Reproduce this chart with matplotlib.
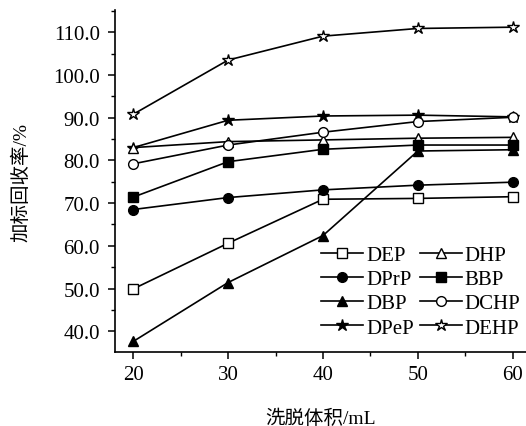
"""Spike recovery of phthalates vs. elution volume."""

import matplotlib
matplotlib.use("Agg")
import matplotlib.pyplot as plt
from matplotlib.ticker import MultipleLocator, FormatStrFormatter

plt.rcParams["font.family"] = ["Liberation Serif", "Noto Sans CJK SC"]

volume = [20, 30, 40, 50, 60]

dep = [49.9, 60.6, 70.9, 71.1, 71.5]
dprp = [68.5, 71.3, 73.1, 74.2, 74.9]
dbp = [37.6, 51.4, 62.4, 82.2, 82.5]
dpep = [83.0, 89.4, 90.4, 90.6, 90.2]
dhp = [83.0, 84.4, 84.8, 85.2, 85.4]
bbp = [71.4, 79.7, 82.6, 83.6, 83.6]
dchp = [79.2, 83.6, 86.6, 89.1, 90.1]
dehp = [90.8, 103.5, 109.1, 110.9, 111.2]

# legend order (column-wise): DEP, DPrP, DBP, DPeP | DHP, BBP, DCHP, DEHP
series = [
    ("DEP", dep, "s", "white"),
    ("DPrP", dprp, "o", "black"),
    ("DBP", dbp, "^", "black"),
    ("DPeP", dpep, "*", "black"),
    ("DHP", dhp, "^", "white"),
    ("BBP", bbp, "s", "black"),
    ("DCHP", dchp, "o", "white"),
    ("DEHP", dehp, "*", "white"),
]

fig = plt.figure(figsize=(5.26, 4.27), dpi=100)
ax = fig.add_axes([0.219, 0.173, 0.781, 0.801])

for name, vals, mk, fc in series:
    ms = 9 if mk == "*" else 7
    ax.plot(volume, vals, color="black", linewidth=1.2, marker=mk,
            markersize=ms, markerfacecolor=fc, markeredgecolor="black",
            markeredgewidth=1.0, label=name)

ax.set_xlim(18.1, 61.4)
ax.set_ylim(35.1, 115.2)
ax.xaxis.set_major_locator(MultipleLocator(10))
ax.xaxis.set_minor_locator(MultipleLocator(5))
ax.yaxis.set_major_locator(MultipleLocator(10))
ax.yaxis.set_minor_locator(MultipleLocator(5))
ax.yaxis.set_major_formatter(FormatStrFormatter("%.1f"))

for side in ("top", "right"):
    ax.spines[side].set_visible(False)
for side in ("left", "bottom"):
    ax.spines[side].set_linewidth(1.2)

ax.tick_params(which="major", direction="out", length=5, width=1.1,
               labelsize=15)
ax.tick_params(axis="y", which="major", pad=6)
ax.tick_params(axis="x", which="major", pad=4)
ax.tick_params(which="minor", direction="out", length=3, width=1.0)

ax.set_xlabel("洗脱体积/mL", fontsize=14, labelpad=18)
ax.set_ylabel("加标回收率/%", fontsize=14, labelpad=16)

ax.legend(ncol=2, frameon=False, fontsize=15, loc="lower right",
          bbox_to_anchor=(1.012, 0.012), borderpad=0, handlelength=2.0,
          handletextpad=0.15, columnspacing=0.3, labelspacing=0.22)

fig.savefig("out.png", dpi=100)
